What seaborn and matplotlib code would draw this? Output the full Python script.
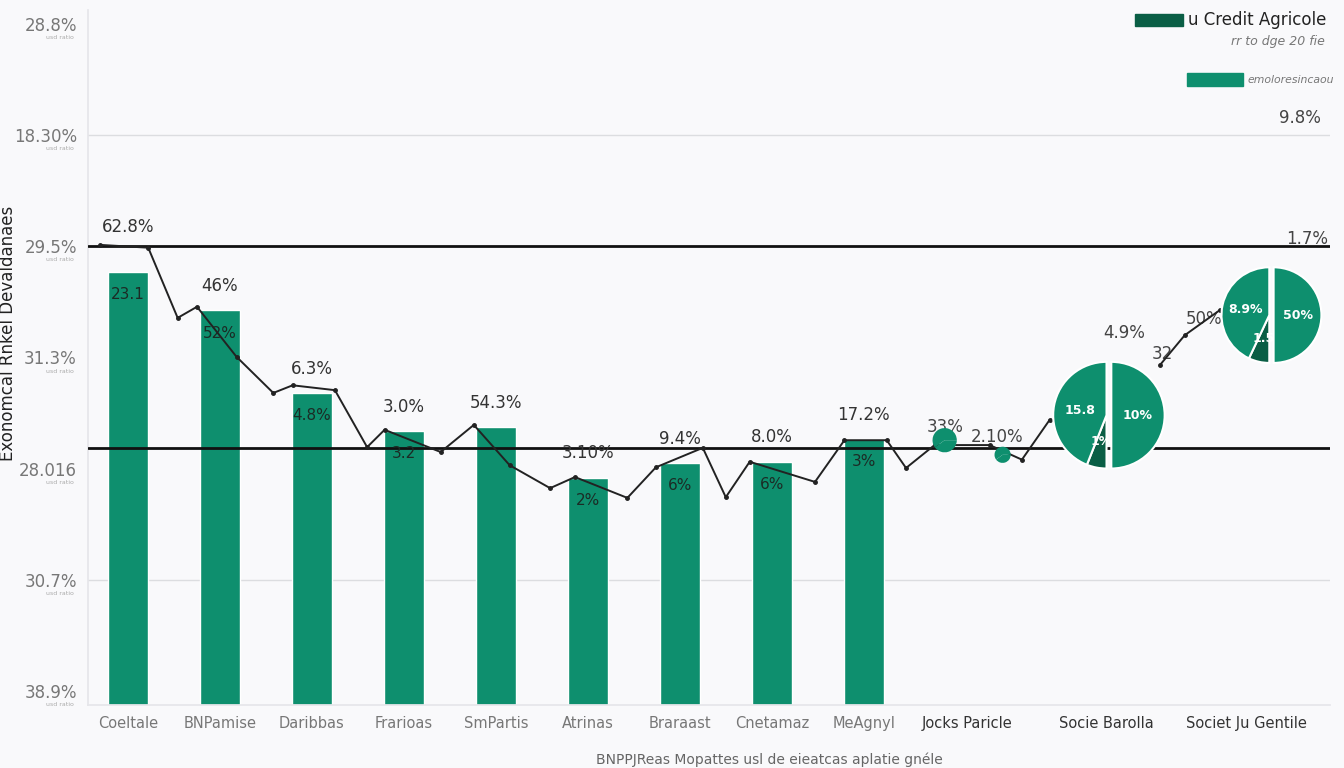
import numpy as np
import pandas as pd
import matplotlib
matplotlib.use("Agg")
import matplotlib.pyplot as plt
import matplotlib.patches as patches
import seaborn as sns

# categories along the x axis (only the first nine carry a bar)
categories = ["Coeltale", "BNPamise", "Daribbas", "Frarioas", "SmPartis", "Atrinas",
              "Braraast", "Cnetamaz", "MeAgnyl", "Jocks Paricle", "Socie Barolla",
              "Societ Ju Gentile"]
bar_values = [62.3, 56.8, 44.9, 39.4, 40.0, 32.7, 34.8, 35.0, 38.3]
top_labels = ["62.8%", "46%", "6.3%", "3.0%", "54.3%", "3.10%", "9.4%", "8.0%", "17.2%"]
inner_labels = ["23.1", "52%", "4.8%", "3.2", "", "2%", "6%", "6%", "3%"]

# zig-zag line series
line_x = [-0.30, 0.22, 0.54, 0.75, 1.18, 1.58, 1.79, 2.25, 2.60, 2.79, 3.40, 3.76,
          4.15, 4.59, 4.86, 5.43, 5.74, 6.25, 6.50, 6.76, 7.47, 7.79, 8.25, 8.46,
          8.77, 9.37, 9.72, 10.02]
line_y = [66.2, 65.8, 55.7, 57.3, 50.1, 44.9, 46.0, 45.3, 37.1, 39.6, 36.4, 40.3,
          34.5, 31.2, 32.8, 29.8, 34.2, 37.0, 29.9, 35.0, 32.1, 38.1, 38.1, 34.1,
          37.4, 37.4, 35.3, 41.0]
line2_x = [11.22, 11.49, 11.87]
line2_y = [48.9, 53.2, 56.8]

# reference lines and y ticks
ref_levels = [66, 37]
grid_levels = [82, 18]
y_ticks = [2, 18, 34, 50, 66, 82, 98]
y_ticklabels = ["38.9%", "30.7%", "28.016", "31.3%", "29.5%", "18.30%", "28.8%"]

# pies on the right side, one per bar-less category
pie_cats = ["Socie Barolla", "Societ Ju Gentile"]
pie_levels = [41.7, 56.1]
pie_sizes = [[50, 6, 44], [50, 7, 43]]
pie_labels = [["10%", "1%", "15.8"], ["50%", "1.5", "8.9%"]]

blob_levels = [38.1, 36.0]

extra_text = [("33%", 8.88, 40.0), ("2.10%", 9.45, 38.5), ("4.9%", 10.83, 53.5),
              ("50%", 11.70, 55.5), ("32", 11.25, 50.5), ("9.8%", 12.74, 84.5),
              ("1.7%", 12.82, 67.0)]

teal = "#0e8f6e"
dark = "#0a5e45"

sns.set_theme(style="white")
plt.rcParams['font.family'] = ['DejaVu Sans']

fig = plt.figure(figsize=(13.44, 7.68), dpi=100, facecolor="#f9f9fb")
ax = fig.add_axes([88 / 1344, 63 / 768, 1242 / 1344, 695 / 768])
ax.set_facecolor("#f9f9fb")

df = pd.DataFrame({"bank": categories[:9], "value": bar_values})
sns.barplot(data=df, x="bank", y="value", color=teal, width=0.435, saturation=1, ax=ax)

# bar-less categories sit on a wider step
n_bars = len(bar_values)
tick_pos = list(range(n_bars)) + [n_bars + 0.12 + 1.52 * k for k in range(len(categories) - n_bars)]

for lv in grid_levels:
    ax.axhline(lv, color="#dcdde0", lw=1, zorder=0)
for lv in ref_levels:
    ax.axhline(lv, color="#111111", lw=2, zorder=3)

ax.plot(line_x, line_y, color="#222222", lw=1.4, marker="o", ms=2.5, zorder=4)
ax.plot(line2_x, line2_y, color="#222222", lw=1.4, marker="o", ms=2.5, zorder=4)

for i, v in enumerate(bar_values):
    ty = v + 2.2
    if ty < ref_levels[0] < ty + 4:
        ty = ref_levels[0] + 1.5
    ax.text(i, ty, top_labels[i], ha="center", va="bottom", fontsize=12, color="#333333")
    if inner_labels[i]:
        ax.text(i, v - 2.2, inner_labels[i], ha="center", va="top", fontsize=11, color="#1b2b25")

for t, x, y in extra_text:
    ax.text(x, y, t, ha="center", va="center", fontsize=12, color="#444444")

# small pies drawn into inset axes
for k, (cat, cy, sizes, labs) in enumerate(zip(pie_cats, pie_levels, pie_sizes, pie_labels)):
    cx = tick_pos[categories.index(cat)] + (0.0 if k == 0 else 0.25)
    w = 1.45 if k == 0 else 1.3
    h = w * 92 / 6.95
    pax = ax.inset_axes([cx - w / 2, cy - h / 2, w, h], transform=ax.transData)
    wedges, texts = pax.pie(sizes, colors=[teal, dark, teal], startangle=90, counterclock=False,
                            explode=[0.09, 0, 0], labels=labs, labeldistance=0.5,
                            textprops=dict(color="white", fontsize=9, fontweight="bold",
                                           clip_on=False),
                            wedgeprops=dict(edgecolor="white", linewidth=1.5))
    for t in texts:
        t.set_ha("center")
    pax.set_axis_off()

for cy, x, w in zip(blob_levels, [8.88, 9.51], [0.33, 0.22]):
    h = w * 92 / 6.95
    pax = ax.inset_axes([x - w / 2, cy - h / 2, w, h], transform=ax.transData)
    pax.pie([60, 40], colors=[teal, teal], startangle=0,
            wedgeprops=dict(edgecolor="none"))
    pax.set_axis_off()

ax.set_xlim(-0.435, 13.07)
ax.set_ylim(0, 100)
ax.set_xticks(tick_pos)
ax.set_xticklabels(categories, fontsize=10.5, color="#777777")
ax.set_yticks(y_ticks)
ax.set_yticklabels(y_ticklabels, fontsize=12, color="#777777")
ax.tick_params(axis="both", length=0, pad=8)
for lab in ax.get_xticklabels()[9:]:
    lab.set_color("#333333")

for t in y_ticks:
    ax.text(-0.011, t - 1.6, "usd ratio", transform=ax.get_yaxis_transform(),
            ha="right", va="top", fontsize=4.5, color="#aaaaaa")

ax.set_xlabel("BNPPJReas Mopattes usl de eieatcas aplatie gnéle", fontsize=10,
              color="#666666")
ax.xaxis.set_label_coords(0.549, -0.068)
ax.set_ylabel("Exonomcal Rnkel Devaldanaes", fontsize=12, color="#222222",
              fontweight="medium")
ax.yaxis.set_label_coords(-0.057, 0.535)

for s in ["top", "right"]:
    ax.spines[s].set_visible(False)
ax.spines["left"].set_color("#e6e6ea")
ax.spines["bottom"].set_color("#e6e6ea")

# legend in the top right corner, laid out by hand
fig.patches.append(patches.Rectangle((1135 / 1344, 742 / 768), 48 / 1344, 12 / 768,
                                     color=dark, transform=fig.transFigure, figure=fig))
fig.text(1188 / 1344, 748 / 768, "u Credit Agricole", ha="left", va="center",
         fontsize=12, color="#222222")
fig.text(1325 / 1344, 726 / 768, "rr to dge 20 fie", ha="right", va="center",
         fontsize=9, color="#777777", style="italic")
fig.patches.append(patches.Rectangle((1187 / 1344, 682 / 768), 56 / 1344, 13 / 768,
                                     color=teal, transform=fig.transFigure, figure=fig))
fig.text(1247 / 1344, 688 / 768, "emoloresincaou", ha="left", va="center",
         fontsize=7.8, color="#777777", style="italic")

fig.savefig("out.png", dpi=100, facecolor=fig.get_facecolor())
